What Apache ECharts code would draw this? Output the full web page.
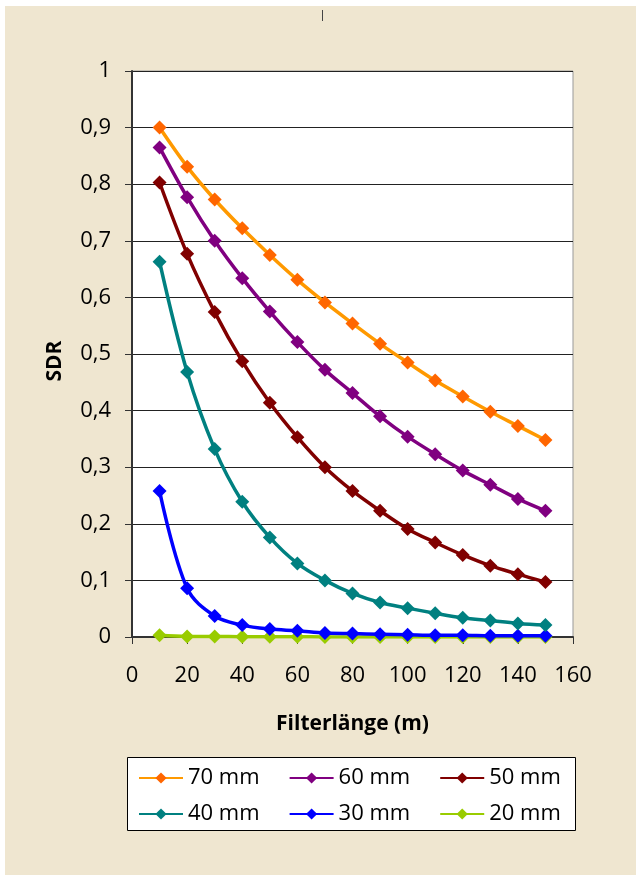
<!DOCTYPE html>
<html>
<head>
<meta charset="utf-8">
<script src="https://cdn.jsdelivr.net/npm/echarts@6/dist/echarts.min.js"></script>
<style>
html,body{margin:0;padding:0;background:#ffffff;}
#c{width:636px;height:879px;}
</style>
</head>
<body>
<div id="c"></div>
<script>
var xValues = [10, 20, 30, 40, 50, 60, 70, 80, 90, 100, 110, 120, 130, 140, 150];
var s70 = [0.900, 0.831, 0.773, 0.722, 0.675, 0.631, 0.591, 0.554, 0.518, 0.485, 0.453, 0.425, 0.398, 0.373, 0.348];
var s60 = [0.865, 0.777, 0.700, 0.634, 0.575, 0.521, 0.472, 0.431, 0.390, 0.354, 0.323, 0.294, 0.269, 0.244, 0.223];
var s50 = [0.803, 0.677, 0.574, 0.487, 0.414, 0.353, 0.300, 0.258, 0.223, 0.191, 0.167, 0.145, 0.126, 0.111, 0.097];
var s40 = [0.663, 0.468, 0.332, 0.239, 0.176, 0.130, 0.100, 0.077, 0.061, 0.051, 0.042, 0.034, 0.029, 0.024, 0.021];
var s30 = [0.258, 0.086, 0.037, 0.021, 0.014, 0.011, 0.007, 0.006, 0.005, 0.004, 0.003, 0.003, 0.002, 0.002, 0.002];
var s20 = [0.003, 0.001, 0.001, 0.0005, 0.0005, 0.0003, 0.0002, 0.0002, 0.0001, 0.0001, 0.0001, 0.0001, 0.0001, 0.0001, 0.0001];
var seriesNames = ['70 mm', '60 mm', '50 mm', '40 mm', '30 mm', '20 mm'];
var seriesData = [s70, s60, s50, s40, s30, s20];
var lineColors = ['#FF9900', '#800080', '#800000', '#008080', '#0000FF', '#99CC00'];
var markerColors = ['#FF6600', '#800080', '#800000', '#008080', '#0000FF', '#99CC00'];
var yTickLabels = ['0', '0,1', '0,2', '0,3', '0,4', '0,5', '0,6', '0,7', '0,8', '0,9', '1'];

var FONT = '"Open Sans", "Noto Sans", sans-serif';

function pairs(arr) {
  return xValues.map(function (x, i) { return [x, arr[i]]; });
}

var series = seriesNames.map(function (name, i) {
  return {
    name: name,
    type: 'line',
    data: pairs(seriesData[i]),
    smooth: 0.35,
    symbol: 'diamond',
    symbolSize: 14,
    lineStyle: { color: lineColors[i], width: 3.5 },
    itemStyle: { color: markerColors[i] },
    z: 10 - i
  };
});

var legendText = { fontFamily: FONT, fontSize: 22, color: '#000' };

var chart = echarts.init(document.getElementById('c'), null, { renderer: 'canvas' });
chart.setOption({
  animation: false,
  backgroundColor: '#ffffff',
  graphic: [
    { type: 'rect', shape: { x: 5, y: 6, width: 631, height: 869 }, style: { fill: '#EFE6D0' }, z: -10 },
    { type: 'line', shape: { x1: 322.5, y1: 10, x2: 322.5, y2: 21 }, style: { stroke: '#444', lineWidth: 1 }, z: 1 },
    { type: 'rect', shape: { x: 127.5, y: 757.5, width: 448, height: 73 }, style: { fill: '#ffffff', stroke: '#000', lineWidth: 1 }, z: 1 }
  ],
  grid: {
    left: 132, top: 71, right: 63, bottom: 242,
    show: true, backgroundColor: '#ffffff', borderColor: '#999', borderWidth: 1
  },
  xAxis: {
    type: 'value', min: 0, max: 160, interval: 20,
    name: 'Filterlänge (m)', nameLocation: 'middle', nameGap: 77, nameMoveOverlap: false,
    nameTextStyle: { fontFamily: FONT, fontSize: 21, fontWeight: 'bold', color: '#000' },
    axisLine: { show: true, lineStyle: { color: '#333', width: 2 } },
    axisTick: { show: true, inside: false, length: 7, lineStyle: { color: '#333', width: 1 } },
    axisLabel: { margin: 28, fontFamily: FONT, fontSize: 22, color: '#000' },
    splitLine: { show: false }
  },
  yAxis: {
    type: 'value', min: 0, max: 1, interval: 0.1,
    name: 'SDR', nameLocation: 'middle', nameGap: 66, nameMoveOverlap: false,
    nameTextStyle: { fontFamily: FONT, fontSize: 21, fontWeight: 'bold', color: '#000', padding: [0, 14, 0, 0] },
    axisLine: { show: true, lineStyle: { color: '#333', width: 2 } },
    axisTick: { show: true, inside: false, length: 7, lineStyle: { color: '#333', width: 1 } },
    axisLabel: {
      margin: 21, fontFamily: FONT, fontSize: 22, color: '#000',
      formatter: function (v) { return yTickLabels[Math.round(v * 10)]; }
    },
    splitLine: { show: true, lineStyle: { color: '#222', width: 1 } }
  },
  legend: [
    {
      data: seriesNames.slice(0, 3), left: 138, top: 767, itemWidth: 44, itemHeight: 14,
      itemGap: 29, textStyle: legendText, padding: 0, selectedMode: false
    },
    {
      data: seriesNames.slice(3, 6), left: 138, top: 803, itemWidth: 44, itemHeight: 14,
      itemGap: 29, textStyle: legendText, padding: 0, selectedMode: false
    }
  ],
  series: series
});
</script>
</body>
</html>
